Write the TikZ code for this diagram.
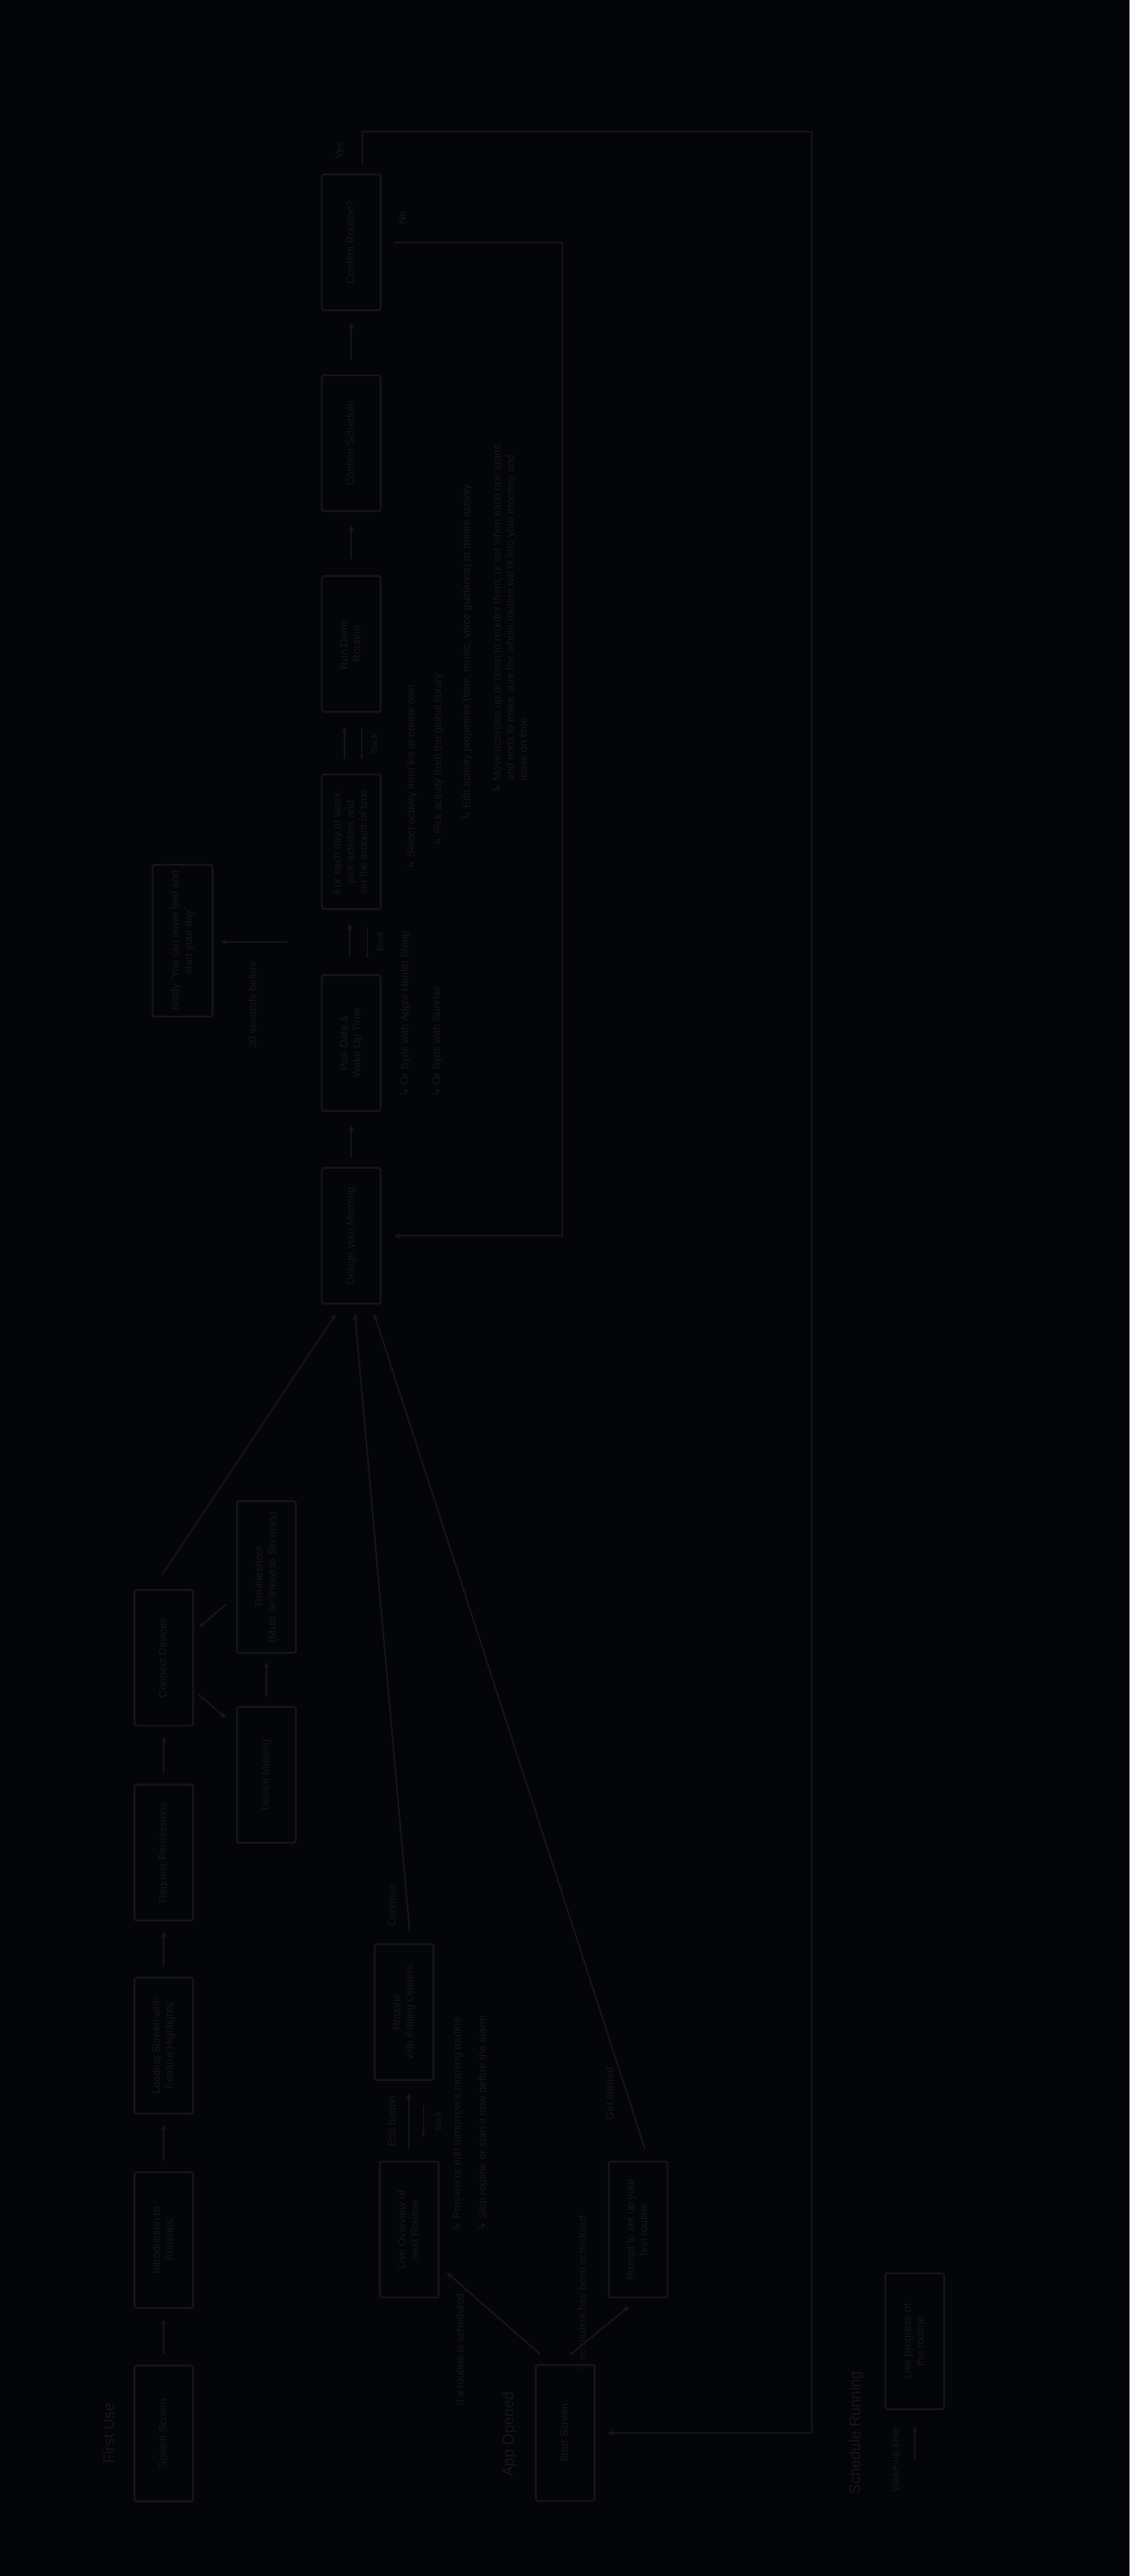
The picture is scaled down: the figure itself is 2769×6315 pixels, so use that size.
\documentclass[tikz,border=0pt]{standalone}
\usepackage{fontspec}
\setmainfont{Liberation Sans}
\newfontfamily\djv{DejaVu Sans}
\usetikzlibrary{arrows.meta,calc}
\definecolor{bgc}{RGB}{4,5,8}
\definecolor{fgc}{RGB}{21,22,21}
\newcommand{\rtxt}[1]{\rotatebox{90}{\begin{tabular}{@{}c@{}}#1\end{tabular}}}
\newcommand{\hk}{{\djv ↳}\ }
\newcommand{\hkph}{\phantom{{\djv ↳}\ }}
\begin{document}
\begin{tikzpicture}[x=1pt,y=-1pt,
  box/.style={draw=fgc, line width=4.5pt, rounded corners=5pt, minimum width=144pt,
    minimum height=333pt, inner sep=0pt, outer sep=0pt, text=fgc,
    font=\fontsize{26}{32}\selectfont},
  arr/.style={draw=fgc, line width=4pt, -{Stealth[length=15pt,width=14pt]}},
  backarr/.style={draw=fgc, line width=2.5pt, -{Stealth[length=11pt,width=10pt]}},
  lbl/.style={text=fgc, font=\fontsize{26}{32}\selectfont, rotate=90, inner sep=0pt},
  small/.style={text=fgc, font=\fontsize{22}{26}\selectfont, rotate=90, inner sep=0pt},
  sec/.style={text=fgc, font=\fontsize{37}{44}\selectfont, rotate=90, inner sep=0pt},
  ann/.style={lbl, anchor=west, align=left}]
\fill[bgc] (0,0) rectangle (2769,6315);
\useasboundingbox (0,0) rectangle (2769,6315);

% ---------- section labels ----------
\node[sec] (lfirst) at (267,5965) {First Use};
\node[sec] (lapp) at (1249,5967) {App Opened};
\node[sec] (lsched) at (2099,5963) {Schedule Running};

% ---------- first use row ----------
\node[box] (A1) at (401.5,5965.5) {\rtxt{Splash Screen}};
\node[box] (A2) at (401.5,5491.5) {\rtxt{Introduction to\\Routines}};
\node[box] (A3) at (401.5,5015) {\rtxt{Loading Screen with\\Feature Highlights}};
\node[box] (A4) at (401.5,4541.5) {\rtxt{Request Permissions}};
\node[box] (A5) at (401.5,4064) {\rtxt{Connect Devices}};
\node[box] (C1) at (653,4351) {\rtxt{Device Missing}};
\node[box, minimum height=372pt] (C2) at (653,3866) {\rtxt{Troubleshoot\\(Must be linked to Services)}};

% ---------- main row ----------
\node[box] (M1) at (861,3029.5) {\rtxt{Design your Morning}};
\node[box] (M2) at (861,2557) {\rtxt{Pick Date \&\\Wake Up Time}};
\node[box, minimum height=330pt] (M3) at (861,2063.5) {\rtxt{For each day of week,\\pick activities and\\set the amount of time}};
\node[box] (M4) at (861,1578.5) {\rtxt{Run Demo\\Routine}};
\node[box] (M5) at (861,1086.5) {\rtxt{Confirm Schedule}};
\node[box] (M6) at (861,594) {\rtxt{Confirm Routine?}};
\node[box, minimum width=147pt, minimum height=372pt] (N) at (447.5,2306) {\rtxt{Notify `You can leave bed and\\start your day'}};

% ---------- app opened ----------
\node[box] (S) at (1385.5,5964.5) {\rtxt{Start Screen}};
\node[box] (B1) at (1003,5465.5) {\rtxt{Live Overview of\\next Routine}};
\node[box] (B0) at (990.5,4932.5) {\rtxt{Routine\\with Editing Options}};
\node[box] (B2) at (1564,5465.5) {\rtxt{Prompt to set up your\\first routine}};

% ---------- schedule running ----------
\node[box] (R) at (2242,5739.5) {\rtxt{Live progress of\\the routine}};

% ---------- first use connectors ----------
\draw[arr, shorten <=28pt, shorten >=27pt] (A1.north) -- (A2.south);
\draw[arr, shorten <=28pt, shorten >=27pt] (A2.north) -- (A3.south);
\draw[arr, shorten <=28pt, shorten >=27pt] (A3.north) -- (A4.south);
\draw[arr, shorten <=28pt, shorten >=27pt] (A4.north) -- (A5.south);
\draw[arr] ([xshift=14pt,yshift=76pt]A5.south east) -- ([xshift=-27pt,yshift=-27pt]C1.north west);
\draw[arr, shorten <=26pt, shorten >=22pt] (C1.north) -- (C2.south);
\draw[arr] ([xshift=-28pt,yshift=-67pt]C2.west) -- ([xshift=14pt,yshift=-93pt]A5.north east);
\draw[arr] ([xshift=-4.5pt,yshift=37pt]A5.north) -- ([xshift=-38pt,yshift=-25pt]M1.south);

% ---------- main row connectors ----------
\draw[arr, shorten <=25pt, shorten >=35pt] (M1.north) -- (M2.south);
\draw[arr, shorten <=46pt, shorten >=36pt] ([xshift=-4pt]M2.north) -- ([xshift=-4pt]M3.south);
\draw[backarr, shorten <=44pt, shorten >=43pt] ([xshift=39pt]M3.south) -- ([xshift=39pt]M2.north);
\node[small] (bk2) at (931,2308) {Back};
\draw[arr, shorten <=38pt, shorten >=37pt] ([xshift=-17pt]M3.north) -- ([xshift=-17pt]M4.south);
\draw[backarr, shorten <=40pt, shorten >=38pt] ([xshift=25pt]M4.south) -- ([xshift=25pt]M3.north);
\node[small] (bk3) at (917,1823) {Back};
\draw[arr, shorten <=42pt, shorten >=34pt] (M4.north) -- (M5.south);
\draw[arr, shorten <=40pt, shorten >=31pt] (M5.north) -- (M6.south);

% notify
\coordinate (nt) at (703,2309);
\draw[arr, shorten >=21pt] (nt) -- (N.east |- nt);
\node[lbl] (l30) at (619,2463) {30 seconds before};

% yes / no loops
\coordinate (yc) at (1990,323);
\draw[arr, shorten >=31pt] ([xshift=27pt,yshift=23pt]M6.north) |- (yc) |- (S.east);
\node[lbl] (lyes) at (832,368) {Yes};
\coordinate (nc) at (1379,594);
\draw[arr, shorten >=33pt] ([xshift=34pt]M6.east) -- (nc) |- (M1.east);
\node[lbl] (lno) at (986,534) {No};

% annotations of Pick Date
\node[ann] (p1) at (994,2688) {\hk Or Sync with Apple Health Sleep};
\node[ann] (p2) at (1072,2688) {\hk Or Sync with Sunrise};

% annotations of For each day
\node[ann] (f1) at (1009,2130) {\hk Select activity from list or create own};
\node[ann] (f2) at (1075,2073) {\hk Pick activity from the global library};
\node[ann] (f3) at (1145,2010) {\hk Edit activity properties (time, music, voice guidance) or delete activity};
\node[ann] (f4) at (1250,1943) {\hk Move activities up or down to reorder them, or set when each one starts\\
\hkph and ends to make sure the whole routine will fit into your morning and\\
\hkph leave on time.};

% ---------- app opened connectors ----------
\draw[arr] ([xshift=10pt,yshift=27pt]S.north west) -- ([xshift=20pt,yshift=61pt]B1.south east);
\node[lbl] (ldl) at (1127,5760) {If a routine is scheduled};
\draw[arr] ([xshift=11.5pt,yshift=25pt]S.north) -- ([xshift=-22pt,yshift=-22pt]B2.south);
\node[lbl] (ldr) at (1427,5620) {If no routine has been scheduled};
\draw[arr, shorten <=31pt, shorten >=32pt] ([xshift=-1pt]B1.north) -- ([xshift=11.5pt]B0.south);
\node[lbl] (ledit) at (960,5200) {Edit button};
\draw[backarr, shorten <=63pt, shorten >=59pt] ([xshift=47.5pt]B0.south) -- ([xshift=35pt]B1.north);
\node[small] (bk1) at (1073,5200) {Back};
\node[ann] (b1) at (1122,5468) {\hk Preview or edit tomorrow's morning routine};
\node[ann] (b2) at (1184,5468) {\hk Skip routine or start it now before the alarm};
\draw[arr] ([xshift=13.5pt,yshift=32pt]B0.north) -- ([xshift=9pt,yshift=-25pt]M1.south);
\node[lbl] (lcont) at (960,4670) {Continue};
\draw[arr] ([xshift=17pt,yshift=31pt]B2.north) -- ([xshift=56pt,yshift=-25pt]M1.south);
\node[lbl] (lget) at (1494,5132) {Get started};

% ---------- schedule running connector ----------
\coordinate (la) at (2242,6032);
\draw[arr, shorten >=42pt] (la) -- (R.south);
\node[lbl] (lwake) at (2196,6030) {Wake up time};
\end{tikzpicture}
\end{document}
